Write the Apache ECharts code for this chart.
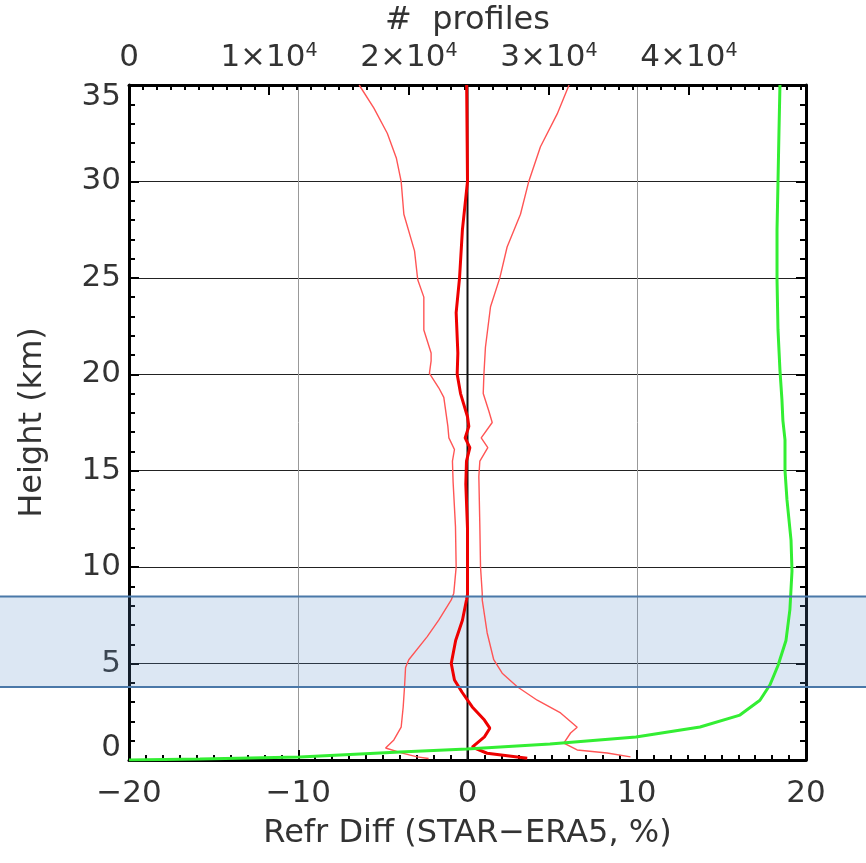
<!DOCTYPE html>
<html>
<head>
<meta charset="utf-8">
<script src="https://cdn.jsdelivr.net/npm/echarts@6/dist/echarts.min.js"></script>
<style>
  html, body { margin: 0; padding: 0; background: #fff; }
  #chart { width: 866px; height: 863px; }
</style>
</head>
<body>
<div id="chart"></div>
<script>
// mean refractivity difference (%) vs height (km)
var meanKm   = [35, 32, 30, 27.5, 25, 23.2, 21.1, 20, 19, 17.8, 17.3, 16.7, 16.2, 15.5, 14.3, 12, 10, 8.6, 8.3, 7.25, 6.2, 5, 4.15, 3.5, 2.75, 2.07, 1.65, 1.2, 0.67, 0.35, 0.09]
var meanDiff = [-0.05, -0.02, 0, -0.3, -0.47, -0.67, -0.57, -0.61, -0.41, 0, 0.08, -0.14, 0.14, -0.06, -0.1, 0, 0, 0, -0.06, -0.3, -0.7, -0.96, -0.77, -0.31, 0.28, 1.0, 1.32, 1.0, 0.28, 1.16, 3.53]

// mean minus std
var lowKm   = [35, 33.8, 32.5, 31.2, 30, 28.3, 26.4, 24.9, 24, 22.3, 21.1, 20.7, 20.05, 19.3, 18.8, 17.3, 16.7, 16.1, 15.5, 14.4, 12.1, 10, 8.65, 8.3, 7.25, 6.4, 5.2, 4.8, 3.8, 2.75, 1.7, 1.04, 0.62, 0.36, 0.16, 0.08]
var lowDiff = [-6.4, -5.53, -4.74, -4.2, -3.92, -3.76, -3.13, -2.94, -2.58, -2.58, -2.15, -2.15, -2.25, -1.7, -1.4, -1.16, -1.1, -0.77, -0.89, -0.85, -0.71, -0.67, -0.81, -0.96, -1.7, -2.38, -3.47, -3.66, -3.72, -3.8, -3.92, -4.35, -4.84, -3.86, -2.97, -2.3]

// mean plus std
var highKm   = [35, 33.5, 31.8, 30, 28.3, 26.6, 25, 23.5, 21.4, 20, 19, 18.1, 17.5, 16.7, 16.2, 15.5, 14.7, 12.1, 10, 8.65, 8.3, 6.6, 5.2, 4.5, 3.8, 3.1, 2.44, 1.7, 1.4, 0.88, 0.52, 0.36, 0.16]
var highDiff = [6.0, 5.3, 4.31, 3.62, 3.13, 2.34, 1.91, 1.36, 1.06, 0.97, 0.93, 1.26, 1.46, 0.81, 1.2, 0.73, 0.67, 0.73, 0.77, 0.87, 0.87, 1.16, 1.55, 2.05, 2.94, 4.12, 5.5, 6.48, 6.09, 5.69, 6.48, 8.25, 9.63]

// number of profiles vs height (top axis)
var countKm       = [0, 0.05, 0.15, 0.41, 0.57, 0.83, 1.19, 1.71, 2.33, 3.1, 3.9, 4.9, 6.2, 7.8, 9.8, 11.4, 13.5, 15, 16.6, 17.6, 18.7, 20.2, 22.3, 24.9, 27.5, 30, 32.6, 35]
var countProfiles = [0, 5070, 12210, 19360, 24140, 30070, 36210, 40790, 43640, 45070, 45790, 46360, 46930, 47210, 47360, 47290, 47000, 46860, 46860, 46710, 46640, 46500, 46360, 46290, 46290, 46360, 46430, 46500]

// shaded height band (km)
var bandKm = [3.78, 8.48]
// height range of the plot (km)
var heightRange = [0, 35]

var pairs = (xs, ys) => xs.map((x, i) => [x, ys[i]])

var font = 'DejaVu Sans'
var txt = '#333'
var fs = 31

var chart = echarts.init(document.getElementById('chart'))

var frame = () => ({show: true, onZero: false, lineStyle: {color: '#000', width: 3}})
var majorTick = () => ({show: true, inside: true, length: 10, lineStyle: {color: '#000', width: 2}})

chart.setOption({
    animation: false,
    grid: {left: 129, right: 60, top: 85, bottom: 103, outerBoundsMode: 'none', containLabel: false},
    xAxis: [
        {
            type: 'value', position: 'bottom', min: -20, max: 20, interval: 10,
            name: 'Refr Diff (STAR\u2212ERA5, %)', nameLocation: 'middle', nameGap: 58,
            nameTextStyle: {fontFamily: font, fontSize: 32, color: txt},
            axisLine: frame(),
            axisTick: majorTick(),
            minorTick: {show: true, splitNumber: 10, length: 5, lineStyle: {color: '#000', width: 2}},
            axisLabel: {fontFamily: font, fontSize: fs, color: txt, margin: 18,
                formatter: v => String(v).replace('-', '\u2212')},
            splitLine: {show: true, lineStyle: {color: '#999', width: 1}}
        },
        {
            type: 'value', position: 'top', min: 0, max: 48360, interval: 10000,
            name: '#  profiles', nameLocation: 'middle', nameGap: 46,
            nameTextStyle: {fontFamily: font, fontSize: 32, color: txt},
            axisLine: frame(),
            axisTick: majorTick(),
            axisLabel: {
                showMaxLabel: false, margin: 12,
                formatter: v => v === 0 ? '{n|0}' : '{n|' + (v / 10000) + '\u00d710}{s|4}',
                rich: {
                    n: {fontFamily: font, fontSize: fs, color: txt},
                    s: {fontFamily: font, fontSize: 19, color: txt, verticalAlign: 'top'}
                }
            },
            splitLine: {show: false}
        },
        {
            type: 'value', position: 'top', min: 0, max: 48360, interval: 1000,
            axisLine: {show: false, onZero: false},
            axisTick: {show: true, inside: true, length: 5, lineStyle: {color: '#000', width: 2}},
            axisLabel: {show: false},
            splitLine: {show: false}
        }
    ],
    yAxis: [
        {
            type: 'value', position: 'left', min: heightRange[0], max: heightRange[1], interval: 5,
            name: 'Height (km)', nameLocation: 'middle', nameGap: 80,
            nameTextStyle: {fontFamily: font, fontSize: 32, color: txt},
            axisLine: frame(),
            axisTick: majorTick(),
            minorTick: {show: true, splitNumber: 5, length: 6, lineStyle: {color: '#000', width: 2}},
            axisLabel: {fontFamily: font, fontSize: fs, color: txt, margin: 8, lineHeight: 24,
                verticalAlignMinLabel: 'bottom', verticalAlignMaxLabel: 'top'},
            splitLine: {show: true, lineStyle: {color: '#222', width: 1.2}}
        },
        {
            type: 'value', position: 'right', min: heightRange[0], max: heightRange[1], interval: 5,
            axisLine: frame(),
            axisTick: majorTick(),
            minorTick: {show: true, splitNumber: 5, length: 6, lineStyle: {color: '#000', width: 2}},
            axisLabel: {show: false},
            splitLine: {show: false}
        }
    ],
    series: [
        {
            // zero reference line, under the mean curve
            name: 'zero', type: 'line', xAxisIndex: 0, yAxisIndex: 0,
            data: heightRange.map(h => [0, h]), showSymbol: false, symbol: 'none',
            lineStyle: {color: '#111', width: 2}, z: 2
        },
        {
            name: 'low', type: 'line', xAxisIndex: 0, yAxisIndex: 0,
            data: pairs(lowDiff, lowKm), showSymbol: false, symbol: 'none',
            lineStyle: {color: '#ff5555', width: 1.4}, z: 3
        },
        {
            name: 'high', type: 'line', xAxisIndex: 0, yAxisIndex: 0,
            data: pairs(highDiff, highKm), showSymbol: false, symbol: 'none',
            lineStyle: {color: '#ff5555', width: 1.4}, z: 3
        },
        {
            name: 'mean', type: 'line', xAxisIndex: 0, yAxisIndex: 0,
            data: pairs(meanDiff, meanKm), showSymbol: false, symbol: 'none',
            lineStyle: {color: '#ee0000', width: 3},
            z: 4
        },
        {
            name: 'count', type: 'line', xAxisIndex: 1, yAxisIndex: 0,
            data: pairs(countProfiles, countKm), showSymbol: false, symbol: 'none',
            lineStyle: {color: '#33ee33', width: 3},
            z: 5
        }
    ]
})

// shaded band across the full width, positioned from the height axis
var yTop = chart.convertToPixel({yAxisIndex: 0}, bandKm[1])
var yBot = chart.convertToPixel({yAxisIndex: 0}, bandKm[0])
var W = chart.getWidth()
chart.setOption({
    graphic: [
        {type: 'rect', z: 1, silent: true,
            shape: {x: 0, y: yTop, width: W, height: yBot - yTop},
            style: {fill: 'rgba(90,140,200,0.21)'}},
        {type: 'line', z: 10, silent: true,
            shape: {x1: 0, y1: yTop, x2: W, y2: yTop},
            style: {stroke: '#4a78a8', lineWidth: 2}},
        {type: 'line', z: 10, silent: true,
            shape: {x1: 0, y1: yBot, x2: W, y2: yBot},
            style: {stroke: '#4a78a8', lineWidth: 2}}
    ]
})
</script>
</body>
</html>
